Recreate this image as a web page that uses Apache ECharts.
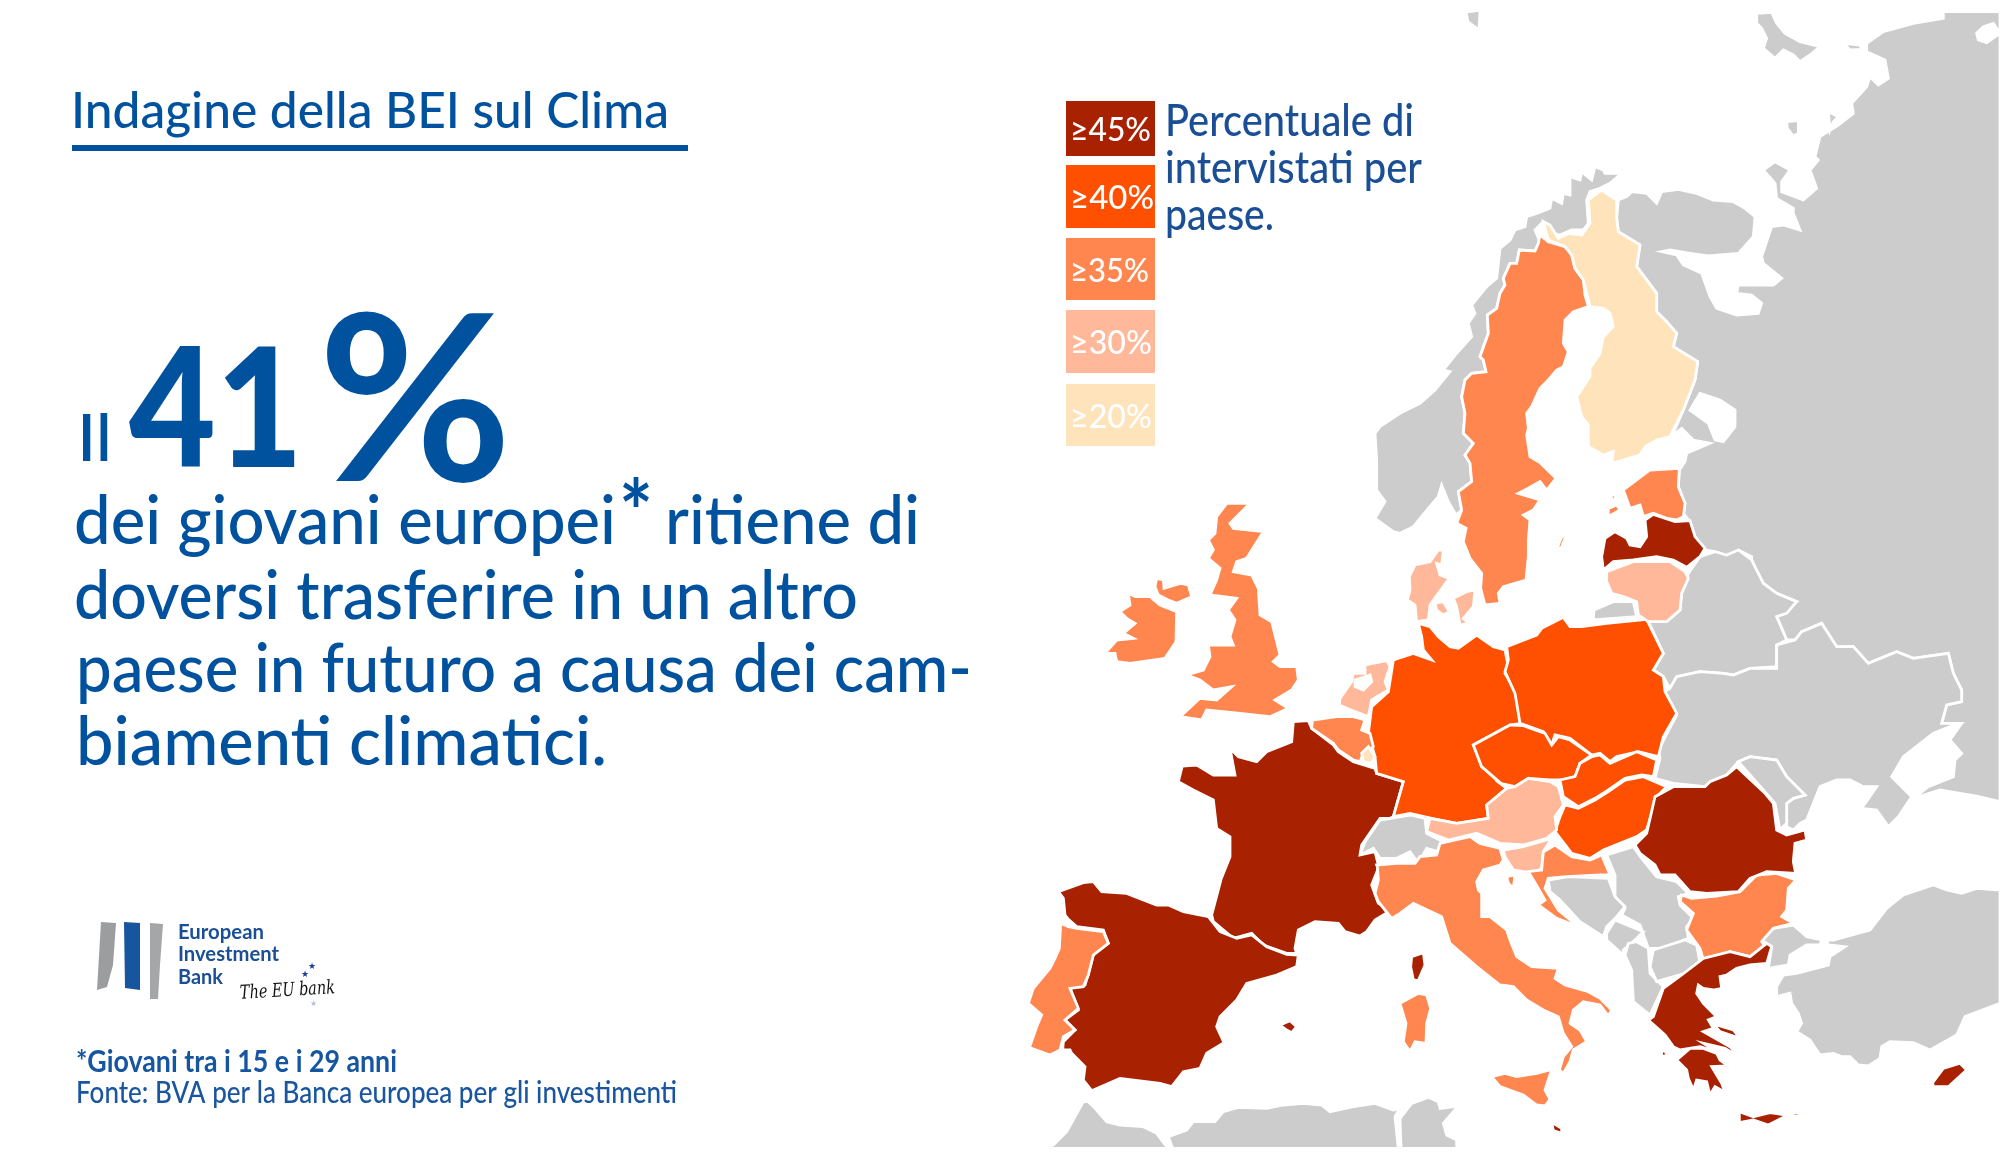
<!DOCTYPE html>
<html><head><meta charset="utf-8">
<style>html,body{margin:0;padding:0;background:#fff}#c{width:2000px;height:1154px}</style>
<script src="https://cdn.jsdelivr.net/npm/echarts@6/dist/echarts.min.js"></script>
</head><body><div id="c"></div>
<script>
// ---------- data ----------
const countryNames = ['France','Spain','Latvia','Romania','Greece','Cyprus','Malta',
  'Germany','Poland','Czechia','Slovakia','Hungary',
  'Sweden','Estonia','United Kingdom','Ireland','Portugal','Italy','Belgium','Croatia','Bulgaria',
  'Lithuania','Netherlands','Denmark','Austria','Slovenia',
  'Finland','Luxembourg'];
const countryValues = [46,47,45,46,47,46,45,
  41,42,41,40,41,
  37,36,37,36,38,39,36,37,38,
  32,33,31,32,31,
  24,25];
const legendMin = [45,40,35,30,20];
const legendMax = [101,45,40,35,30];
const legendLabels = ['≥45%','≥40%','≥35%','≥30%','≥20%'];
const legendColors = ['#a82100','#fe5000','#ff874f','#ffb899','#ffe3bb'];
const legendTitle = ['Percentuale di','intervistati per','paese.'];
const bodyLines = ['dei giovani europei','ritiene di','doversi trasferire in un altro','paese in futuro a causa dei cam-','biamenti climatici.'];
const greyColor = '#cccccc';
const ink = '#00529f';

// ---------- map outline (traced shapes) ----------
const Z = (x0,y0) => p => p.map(([x,y]) => [x0+x/3, -(y0+y/3)]);
const A = Z(1400,180), B = Z(1060,490), C = Z(1500,560), D = Z(1020,860), E = Z(1500,860), F = Z(1500,0);
const shapes = {
 Morocco:[D([[60,865],[100,855],[140,815],[190,725],[205,725],[225,745],[260,785],[300,795],[370,800],[410,820],[440,860],[438,865]])],
 Algeria:[D([[458,865],[445,830],[500,810],[520,785],[585,785],[610,755],[655,742],[740,745],[790,735],[850,730],[905,735],[930,755],[1000,740],[1065,730],[1120,750],[1140,745],[1125,770],[1135,865]])],
 Tunisia:[D([[1143,865],[1140,775],[1175,730],[1225,712],[1255,725],[1260,745],[1315,738],[1270,790],[1280,825],[1310,840],[1310,865]])],
 Russia:[[...F([[380,590],[395,575],[440,580],[470,610],[485,575],[535,568],[590,580],[640,600],[700,605],[735,625],[765,650],[760,710],[715,760],[625,768],[570,760],[510,750],[485,755]]),
   ...A([[830,225],[850,255],[905,280],[930,350],[950,385],[1010,405],[1075,400],[1085,370],[1055,345],[1010,340],[1015,315],[1120,315],[1145,295],[1090,250],[1085,230],[1115,140]]),
   ...F([[850,675],[900,690],[880,640],[880,625],[830,595],[825,550],[790,510],[825,485],[870,510],[845,545],[845,575],[910,600],[950,565],[930,510],[955,480],[945,470],[960,410],[1015,375],[1060,340],[1055,310],[1100,260],[1110,230],[1135,255],[1165,235],[1155,180],[1100,155],[1100,130],[1150,95],[1240,70],[1330,55],[1330,35],[1500,35]]),
   ...C([[1500,725],[1430,708],[1380,700],[1320,690],[1240,715],[1285,680],[1360,650],[1365,600],[1385,580],[1350,540],[1385,490],[1325,490],[1340,435],[1385,425],[1385,390],[1360,340],[1345,280],[1240,295],[1190,275],[1105,310],[1060,260],[1010,260],[965,190],[905,215],[885,240],[860,240],[830,170],[890,125],[830,100],[790,70],[760,20],[755,0]]),
   ...A([[1055,1130],[1015,1110],[985,1130],[945,1115],[915,1110],[885,1070],[870,1025],[850,1000],[855,970],[835,920],[838,870],[855,845],[860,820],[930,790],[880,780],[845,745],[815,770],[850,690],[885,600],[893,545],[820,500],[830,460],[800,425],[770,395],[770,340],[710,260],[720,195],[655,155],[650,115],[655,60]])],
   F([[770,40],[815,37],[830,70],[855,100],[900,125],[960,140],[930,165],[900,185],[880,165],[850,150],[825,175],[790,145],[800,115],[785,85],[770,70]]),
   F([[1030,130],[1080,135],[1085,148],[1050,150]]),
   F([[860,365],[895,362],[895,400],[880,408],[862,385]]),
   F([[985,335],[1015,350],[1000,365],[990,390]]),
   [[1466,-12],[1480,-10],[1479,-30],[1468,-22]]],
 Norway:[[...F([[0,745],[30,720],[45,690],[75,680],[80,650],[110,640],[150,625],[155,595],[185,610],[190,580],[210,585],[210,530],[240,540],[245,515],[275,540],[285,500],[310,510],[315,520],[365,520],[330,550],[300,565],[270,575],[260,600],[265,670],[250,690],[215,690],[180,705],[160,700],[130,665],[105,690],[120,725],[110,750]]),
   ...A([[405,213],[358,210],[350,250],[330,250],[310,295],[315,315],[300,340],[290,385],[262,405],[265,460],[240,530],[250,540],[258,575],[215,580],[195,600],[185,650],[195,700],[190,760],[220,790],[195,825],[210,850],[215,905],[175,935],[185,990],[168,1005],[145,965],[125,915],[115,950],[85,985],[40,1040],[0,1060]]),
   ...B([[1000,125],[945,85],[975,35],[950,0]]),
   ...A([[-70,840],[-75,760],[-60,740],[0,700],[60,670],[105,630],[150,575],[130,570],[170,520],[215,470],[205,430],[225,400],[215,375],[260,320],[290,295]])]],
 Sweden:[[...A([[420,165],[445,185],[495,200],[515,225],[525,265],[550,300],[555,345],[565,380],[520,395],[495,420],[490,490],[505,515],[490,560],[470,570],[445,600],[420,625],[395,680],[380,700],[385,745],[380,765],[390,830],[420,848],[468,895],[440,930],[420,905],[385,925],[355,940],[420,960],[400,990],[370,1005],[390,1020],[385,1080],[385,1130],[378,1200]]),
   ...B([[1395,270],[1330,290],[1315,310],[1320,340],[1275,345],[1262,295],[1265,250],[1230,205],[1210,155],[1218,115],[1190,100]]),
   ...A([[185,990],[175,935],[215,905],[210,850],[195,825],[220,790],[190,760],[195,700],[185,650],[195,600],[215,580],[258,575],[250,540],[240,530],[265,460],[262,405],[290,385],[300,340],[315,315],[310,295],[330,250],[350,250],[358,210],[405,213],[415,190]])],
   A([[490,1058],[495,1075],[482,1108],[473,1100]])],
 Finland:[A([[605,30],[650,60],[650,115],[655,155],[720,195],[710,260],[770,340],[770,395],[800,425],[830,460],[820,500],[893,545],[885,600],[850,690],[810,770],[770,780],[735,800],[720,825],[635,850],[640,815],[610,825],[565,800],[565,735],[545,710],[530,650],[570,590],[570,565],[600,520],[610,470],[640,440],[630,400],[610,385],[570,380],[550,300],[525,265],[515,225],[495,200],[445,180],[430,125],[450,135],[475,175],[505,160],[545,165],[570,130],[565,60]])],
 Estonia:[A([[690,915],[750,870],[838,865],[835,920],[855,970],[850,1010],[830,1020],[800,1015],[760,1000],[730,1010],[720,975],[690,985],[670,930]]),A([[630,945],[650,945],[640,965]]),A([[625,985],[650,975],[660,990],[625,1010]])],
 Kaliningrad:[C([[282,150],[340,125],[400,125],[410,170],[280,180]])],
 Belarus:[C([[565,40],[600,-10],[645,-25],[680,-15],[715,-30],[755,0],[790,70],[830,100],[890,125],[860,160],[830,170],[860,240],[830,255],[830,320],[750,325],[700,345],[670,340],[600,335],[530,350],[510,385],[490,350],[460,330],[490,280],[445,185],[500,185],[540,150],[545,100]])],
 Ukraine:[C([[510,385],[530,350],[600,335],[670,340],[700,345],[750,325],[830,325],[830,255],[885,240],[905,215],[965,190],[1010,260],[1060,260],[1105,310],[1190,275],[1240,295],[1345,280],[1360,340],[1385,390],[1385,425],[1340,435],[1325,490],[1375,490],[1300,520],[1210,590],[1175,650],[1235,710],[1195,770],[1165,800],[1130,750],[1085,745],[1130,680],[1090,680],[1050,660],[1010,660],[960,680],[920,780],[900,790],[880,810],[860,800],[860,730],[880,715],[915,705],[860,650],[830,600],[750,590],[715,605],[680,645],[630,665],[615,680],[520,670],[465,655],[480,595],[475,570],[530,465],[495,395]])],
 Moldova:[C([[715,605],[750,590],[830,600],[860,650],[915,705],[880,715],[860,730],[860,790],[840,810],[825,730],[790,690]])],
 Turkey:[E([[1500,90],[1430,85],[1385,100],[1340,90],[1300,75],[1210,105],[1160,145],[1110,210],[1000,240],[980,240],[985,255],[1035,260],[990,290],[985,315],[890,340],[850,345],[830,380],[830,410],[870,400],[875,430],[895,460],[905,490],[890,515],[930,540],[960,585],[1000,580],[1025,590],[1050,590],[1075,615],[1105,618],[1140,595],[1145,560],[1170,545],[1240,548],[1290,570],[1370,525],[1395,470],[1500,430]]),
   E([[820,205],[880,195],[920,230],[965,240],[960,255],[920,255],[870,285],[865,315],[805,325],[815,260],[785,240]])],
 Switzerland:[B([[960,990],[1050,975],[1095,985],[1100,1030],[1150,1055],[1135,1085],[1100,1075],[1075,1120],[1050,1085],[1010,1105],[960,1105],[940,1075],[900,1095],[915,1055]])],
 Serbia:[C([[320,885],[400,860],[425,895],[470,950],[530,965],[565,1000],[535,1010],[540,1035],[580,1075],[560,1100],[565,1135],[490,1165],[445,1165],[420,1095],[365,1065],[375,1045],[345,1010],[345,945]])],
 Bosnia:[C([[145,960],[205,950],[325,955],[345,1010],[375,1040],[350,1070],[320,1100],[310,1130],[240,1085],[180,1020],[150,995]])],
 Montenegro:[E([[320,220],[345,180],[430,215],[405,240],[370,270],[370,285],[320,240]])],
 Albania:[E([[375,285],[385,250],[410,245],[445,265],[450,340],[490,380],[450,465],[400,425],[395,330]])],
 Macedonia:[E([[460,270],[555,240],[590,255],[600,310],[555,340],[470,365],[450,320]])],
 France:[[...B([[700,695],[745,692],[755,715],[820,765],[835,785],[880,815],[945,835],[950,850],[1030,875],[1000,980],[990,985],[960,985],[905,1065],[900,1095],[945,1085],[955,1125]]),
   ...D([[1075,25],[1055,75],[1075,130],[1115,150],[1065,180],[1040,215],[1020,228],[975,215],[955,190],[885,185],[835,210],[825,265],[830,280],[800,280],[730,255],[695,220],[640,235],[580,185],[575,165],[600,70],[615,10]]),
   ...B([[490,1150],[510,1100],[510,1040],[470,1015],[460,930],[400,900],[355,875],[365,835],[345,830],[410,825],[460,855],[525,855],[510,775],[535,800],[590,815],[620,785],[695,755]])],
   D([[1175,290],[1210,278],[1215,315],[1195,362],[1180,360],[1172,320]])],
 Spain:[D([[115,95],[190,68],[220,65],[245,95],[320,100],[410,135],[445,135],[490,155],[565,170],[600,215],[650,235],[695,225],[740,260],[800,283],[835,285],[830,320],[770,345],[680,370],[650,420],[600,470],[590,500],[612,548],[560,580],[540,625],[490,635],[455,680],[420,670],[300,655],[270,668],[215,692],[190,660],[195,620],[155,580],[150,570],[128,570],[130,545],[165,510],[135,480],[175,450],[150,385],[195,375],[205,340],[220,285],[265,250],[250,210],[170,200],[145,178],[135,165],[130,115]]),
   D([[780,495],[810,482],[830,500],[815,518],[800,510]])],
 Portugal:[D([[122,190],[145,200],[170,205],[250,215],[265,250],[220,285],[205,345],[190,380],[150,385],[175,445],[135,480],[165,510],[130,530],[120,570],[90,585],[28,563],[50,500],[65,465],[25,430],[40,385],[90,325],[105,295],[118,265]])],
 Italy:[[...B([[950,1125],[1010,1120],[1065,1120],[1080,1100],[1130,1095],[1140,1060],[1230,1040],[1260,1060],[1320,1075],[1330,1110],[1320,1125],[1270,1140],[1250,1175],[1255,1200]]),
   ...D([[1385,100],[1385,170],[1410,170],[1460,210]]),
   ...E([[30,240],[50,290],[95,320],[175,325],[165,355],[195,375],[265,395],[300,415],[335,450],[325,468],[300,435],[250,425],[220,450],[210,490],[240,510],[260,545],[220,570],[210,605],[190,640],[178,630],[190,590],[215,560],[190,520],[175,470],[130,450],[80,420],[40,380],[0,375]]),
   ...D([[1440,375],[1370,320],[1290,250],[1265,170],[1180,130],[1140,160],[1115,175],[1075,125],[1065,100],[1075,60],[1072,20]])],
   [...D([[1415,650],[1455,640]]),...E([[50,650],[110,640],[155,628],[135,690],[150,718],[135,738],[110,735],[70,705],[0,680]])],
   D([[1140,430],[1195,400],[1220,405],[1232,445],[1220,490],[1218,550],[1185,545],[1170,575],[1150,545],[1158,490]])],
 Malta:[E([[155,787],[185,805],[185,820],[160,812]])],
 Germany:[B([[1075,400],[1110,410],[1135,440],[1170,470],[1195,475],[1250,435],[1300,470],[1335,480],[1345,530],[1335,550],[1365,600],[1385,700],[1350,705],[1240,765],[1265,830],[1340,895],[1280,945],[1285,985],[1190,1000],[1115,985],[1050,970],[1000,980],[1030,875],[950,850],[945,800],[925,730],[935,650],[985,605],[1000,510],[1060,490],[1115,510],[1090,480],[1085,440]])],
 Poland:[C([[20,260],[110,225],[125,205],[190,172],[210,200],[245,200],[320,190],[440,178],[490,280],[460,330],[490,350],[495,395],[530,460],[490,530],[475,590],[415,575],[350,590],[330,605],[300,580],[275,585],[210,535],[165,525],[155,555],[130,515],[75,495],[60,490],[45,400],[15,335],[25,300]])],
 Czechia:[[...B([[1240,765],[1350,705]]),...C([[35,495],[70,497],[135,520],[155,555],[175,530],[210,540],[275,585],[240,610],[225,650],[185,660],[150,660],[85,655],[45,680],[0,670]]),...B([[1340,895],[1265,830]])]],
 Slovakia:[C([[275,590],[300,585],[330,610],[410,575],[470,600],[460,650],[425,645],[375,655],[325,690],[285,715],[235,740],[190,710],[180,660],[225,650],[240,610]])],
 Hungary:[C([[430,650],[500,680],[470,710],[440,810],[410,830],[310,870],[270,895],[215,880],[165,815],[180,770],[195,735],[235,745],[285,720],[325,695],[375,660]])],
 Austria:[[...B([[1340,895]]),...C([[45,680],[85,655],[150,665],[175,680],[190,735],[165,770],[170,810],[140,835],[70,855],[0,850]]),...B([[1250,1030],[1165,1050],[1100,1025],[1110,985],[1190,1000],[1285,985],[1280,945]])]],
 Slovenia:[C([[10,870],[70,860],[155,835],[130,875],[125,925],[100,940],[40,930],[15,890]])],
 Croatia:[C([[165,855],[215,890],[270,900],[305,885],[330,945],[300,945],[200,950],[145,955],[135,985],[175,1050],[235,1100],[170,1075],[115,1035],[135,1020],[115,985],[85,935],[125,930],[130,875]]),C([[20,950],[45,945],[40,985],[25,970]])],
 Belgium:[B([[757,690],[830,680],[880,680],[915,690],[905,720],[930,730],[940,770],[910,790],[900,815],[880,810],[835,780],[820,760],[755,715]])],
 Luxembourg:[B([[905,790],[925,770],[945,800],[935,820],[910,815]])],
 Netherlands:[B([[915,525],[980,512],[990,530],[975,575],[985,600],[935,630],[925,680],[885,665],[838,645],[840,625],[875,575],[880,550],[915,550]])],
 Denmark:[B([[1135,180],[1150,180],[1145,225],[1130,220],[1140,255],[1168,265],[1135,310],[1110,345],[1105,390],[1070,395],[1065,345],[1042,330],[1050,300],[1048,260],[1065,225],[1110,215]]),B([[1180,325],[1220,305],[1245,300],[1240,350],[1210,385],[1225,400],[1200,405],[1190,350]]),B([[1125,340],[1150,335],[1168,365],[1150,375],[1130,360]])],
 Latvia:[A([[615,1075],[645,1055],[680,1075],[690,1095],[720,1100],[740,1070],[735,1020],[760,1003],[825,1025],[870,1022],[885,1070],[915,1105],[900,1130],[860,1162],[820,1140],[770,1130],[700,1140],[640,1145],[610,1170],[605,1130]])],
 Lithuania:[C([[320,35],[400,5],[510,5],[555,35],[565,55],[545,100],[540,150],[500,185],[445,185],[415,165],[410,125],[370,110],[335,100],[320,65]])],
 'United Kingdom':[B([[500,40],[570,40],[510,100],[520,115],[610,125],[560,205],[530,215],[520,245],[575,255],[595,295],[600,375],[635,395],[660,495],[640,515],[660,530],[710,530],[715,570],[695,600],[645,630],[685,655],[630,680],[540,670],[440,660],[425,690],[360,680],[420,625],[470,630],[515,590],[460,600],[420,570],[380,555],[430,540],[450,500],[445,465],[520,465],[510,440],[525,390],[505,360],[530,325],[450,315],[470,270],[480,235],[445,205],[460,180],[445,150],[465,130],[470,80]]),
   B([[290,265],[310,270],[312,295],[360,280],[385,285],[395,320],[350,340],[325,330],[295,315],[285,290]])],
 Ireland:[B([[205,310],[225,320],[270,320],[300,345],[350,365],[348,455],[315,505],[210,520],[170,515],[165,490],[135,490],[170,450],[220,445],[190,430],[225,400],[200,385],[180,365],[210,345]])],
 Bulgaria:[E([[545,105],[575,115],[650,108],[720,95],[770,45],[830,40],[888,60],[865,85],[860,150],[845,170],[880,190],[820,205],[785,245],[800,265],[750,290],[690,275],[610,300],[600,265],[560,210],[580,160],[540,125]])],
 Romania:[C([[520,680],[615,680],[630,665],[680,645],[710,620],[795,700],[820,730],[830,810],[860,825],[915,810],[920,840],[885,850],[880,905],[887,940],[800,935],[750,955],[715,995],[620,1000],[570,995],[525,945],[480,945],[465,915],[420,880],[405,855],[440,820],[465,710]])],
 Greece:[E([[800,250],[815,260],[800,310],[750,315],[710,325],[680,345],[660,350],[665,385],[640,390],[610,385],[595,375],[590,400],[610,430],[650,470],[625,480],[640,505],[610,515],[690,560],[715,590],[675,565],[610,550],[650,575],[600,560],[540,570],[520,560],[495,525],[445,480],[460,470],[490,385],[545,345],[610,295],[690,275],[750,290]]),
   E([[530,600],[570,565],[610,565],[650,580],[660,600],[685,618],[635,620],[665,670],[675,697],[645,680],[630,705],[620,665],[590,660],[580,690],[565,655],[560,630]]),
   E([[640,492],[700,510],[720,535],[660,515]]),
   E([[718,755],[760,770],[810,758],[860,765],[895,757],[898,768],[850,772],[805,795],[760,780],[718,788]]),
   E([[488,568],[505,585],[482,590]]),E([[640,405],[665,410],[650,415]]),E([[672,395],[682,408],[668,410]]),E([[690,375],[705,395],[695,392]]),E([[730,545],[750,550],[735,555]])],
 Cyprus:[E([[1415,582],[1385,615],[1400,630],[1345,680],[1300,680],[1298,668],[1330,625],[1380,610]])]
};
const lakes = [
 {name:'lake1', ring:A([[900,640],[960,660],[1005,690],[1005,740],[970,785],[945,780],[925,730],[870,690]])},
 {name:'lake2', ring:F([[1430,100],[1450,80],[1480,70],[1500,100],[1460,128],[1435,120]])},
 {name:'lake3', ring:B([[885,570],[930,555],[935,575],[910,600],[885,590]])}
];
const geo = {type:'FeatureCollection',features:[
 ...Object.keys(shapes).map(k=>({type:'Feature',properties:{name:k},
   geometry:{type:'MultiPolygon',coordinates:shapes[k].map(r=>[[...r,r[0]]])}})),
 ...lakes.map(l=>({type:'Feature',properties:{name:l.name},
   geometry:{type:'Polygon',coordinates:[[...l.ring,l.ring[0]]]}}))
]};
echarts.registerMap('europe',geo);

// ---------- text helpers ----------
const mctx = document.createElement('canvas').getContext('2d');
function label(text,x0,x1,baseline,size,weight,fill,family){
  family = family || 'Lato';
  const font = `${weight} ${size}px ${family}`;
  mctx.font = font;
  const w = mctx.measureText(text).width;
  return {type:'text',x:x0,y:baseline-0.32*size,scaleX:(x1-x0)/w,silent:true,z:10,
    style:{text,font,fill,align:'left',verticalAlign:'middle'}};
}
const graphics = [];
graphics.push(label('Indagine della BEI sul Clima',71,669,128,50,'500',ink));
graphics.push({type:'rect',shape:{x:72,y:145,width:616,height:6},style:{fill:ink},silent:true});
graphics.push(label('Il',77,112,461,66,'500',ink));
graphics.push(label('41',129,303,467,165,'900',ink));
graphics.push(label('%',318,512,480,232,'700',ink));
const bodyPos=[[74,616,544],[665,920,544],[74,858,619],[76,972,692],[76,607,765]];
bodyLines.forEach((t,i)=>graphics.push(label(t,bodyPos[i][0],bodyPos[i][1],bodyPos[i][2],67,'500',ink)));
graphics.push(label('*',619,653,544,88,'700',ink));
const legY=[[101,156],[165,228],[238,300],[310,373],[384,446]];
const legText=[[1070,1151,141],[1070,1154,209],[1070,1149,282],[1070,1152,354],[1070,1152,428]];
legendLabels.forEach((t,i)=>{
  graphics.push({type:'rect',shape:{x:1066,y:legY[i][0],width:89,height:legY[i][1]-legY[i][0]},style:{fill:legendColors[i]},silent:true});
  graphics.push(label(t,legText[i][0],legText[i][1],legText[i][2],33,'500','#fff'));
});
const titleY=[[1165,1414,136],[1165,1422,183],[1165,1274,230]];
legendTitle.forEach((t,i)=>graphics.push(label(t,titleY[i][0],titleY[i][1],titleY[i][2],44,'500','#1a4f96')));
graphics.push({type:'polygon',shape:{points:[[101,922],[116,923],[113,965],[107,987],[97,990]]},style:{fill:'#9c9d9f'},silent:true});
graphics.push({type:'polygon',shape:{points:[[124,922],[140,923],[140,990],[125,988]]},style:{fill:'#17569e'},silent:true});
graphics.push({type:'polygon',shape:{points:[[150,923],[163,924],[160,965],[158,999],[150,999]]},style:{fill:'#a5a6a8'},silent:true});
graphics.push(label('European',178,264,939,20,'700','#1a4f96'));
graphics.push(label('Investment',178,279,961,20,'700','#1a4f96'));
graphics.push(label('Bank',178,223,984,20,'700','#1a4f96'));
const hand=label('The EU bank',240,335,1000,19,'italic 400','#111','DejaVu Serif');
hand.rotation=0.06; graphics.push(hand);
graphics.push({type:'text',x:308,y:962,silent:true,style:{text:'★',font:'9px DejaVu Sans',fill:'#1f3a93'}});
graphics.push({type:'text',x:301,y:970,silent:true,style:{text:'★',font:'9px DejaVu Sans',fill:'#1f3a93'}});
graphics.push({type:'text',x:310,y:1000,silent:true,style:{text:'★',font:'8px DejaVu Sans',fill:'#b8bfe0'}});
graphics.push(label('*Giovani tra i 15 e i 29 anni',76,397,1072,30,'700','#1656a0'));
graphics.push(label('Fonte: BVA per la Banca europea per gli investimenti',76,677,1103,30,'500','#1a56a0'));

const lakeData = lakes.map(l=>({name:l.name,value:NaN,itemStyle:{areaColor:'#fff',borderColor:'#fff'}}));
const option = {
  backgroundColor:'#ffffff',
  animation:false,
  tooltip:{show:false},
  visualMap:{type:'piecewise',show:false,seriesIndex:0,
    pieces:legendMin.map((m,i)=>({gte:m,lt:legendMax[i],color:legendColors[i]})),
    outOfRange:{color:greyColor}},
  graphic:{elements:graphics},
  series:[{type:'map',map:'europe',silent:true,aspectScale:1,roam:false,
    left:0,top:0,width:2000,height:1154,
    boundingCoords:[[0,0],[2000,-1154]],
    label:{show:false},
    itemStyle:{areaColor:greyColor,borderColor:'#ffffff',borderWidth:2.8},
    data:[...countryNames.map((n,i)=>({name:n,value:countryValues[i]})),...lakeData]
  }]
};
const chart = echarts.init(document.getElementById('c'),null,{renderer:'canvas'});
chart.setOption(option);
</script></body></html>
